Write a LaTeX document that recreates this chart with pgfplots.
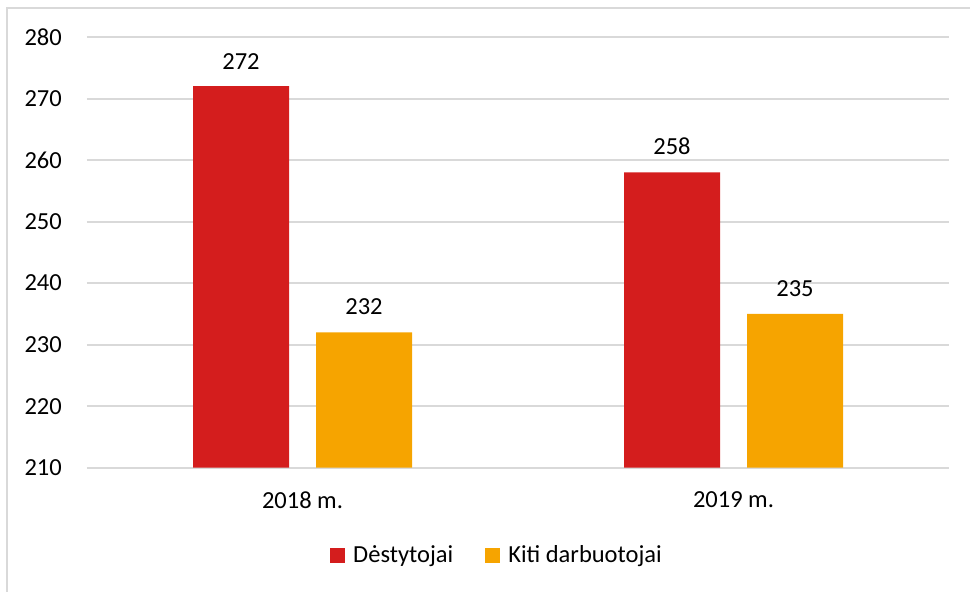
\documentclass[border=0pt]{standalone}
\usepackage{fontspec}
\setmainfont{Carlito}
\usepackage{xcolor}
\definecolor{barred}{RGB}{212,29,29}
\definecolor{barorange}{RGB}{246,164,0}
\definecolor{gridgray}{RGB}{217,217,217}
\usepackage{pgfplots}
\pgfplotsset{compat=1.18}
\newcommand{\f}{\fontsize{24.5}{29}\selectfont}

\begin{document}
\begin{tikzpicture}[x=1pt,y=1pt,font=\f]
\path[use as bounding box] (0,0) rectangle (970,-592);
% chart frame (only top and left edges visible)
\draw[gridgray,line width=2pt] (6.5,-620) -- (6.5,-8) -- (1000,-8);
\begin{axis}[
  at={(87pt,-467.7pt)}, anchor=south west,
  width=862pt, height=430.7pt, scale only axis,
  ybar, bar width=96pt,
  xmin=0, xmax=2,
  ymin=210, ymax=280,
  ytick={210,220,...,280},
  xtick={0.5,1.5},
  xticklabels={2018 m., 2019 m.},
  ymajorgrids=true,
  grid style={draw=gridgray, line width=2pt},
  axis line style={draw=none},
  tick style={draw=none},
  major tick length=0pt,
  /pgf/number format/assume math mode=true,
  /pgf/number format/1000 sep={},
  yticklabel style={font=\f, anchor=east, inner sep=0pt, xshift=-25pt},
  xticklabel style={font=\f, anchor=north, inner sep=0pt, yshift=-24pt},
  nodes near coords,
  every node near coord/.append style={font=\f, anchor=south, inner sep=0pt, yshift=17pt},
  clip=false,
  area legend,
  legend image code/.code={\fill[#1] (0pt,-7.5pt) rectangle (15pt,7.5pt);},
  legend columns=2,
  legend style={draw=none, fill=none, font=\f,
    at={(0.4745,-0.2027)}, anchor=center,
    nodes={inner sep=0pt},
    /tikz/every odd column/.append style={column sep=8pt},
    /tikz/every even column/.append style={column sep=32pt}},
  legend cell align=left,
]
\addplot[fill=barred, draw=none, bar shift=-61.5pt] coordinates {(0.5,272) (1.5,258)};
\addplot[fill=barorange, draw=none, bar shift=61.5pt] coordinates {(0.5,232) (1.5,235)};
\legend{Dėstytojai, Kiti darbuotojai}
\end{axis}
\end{tikzpicture}
\end{document}
